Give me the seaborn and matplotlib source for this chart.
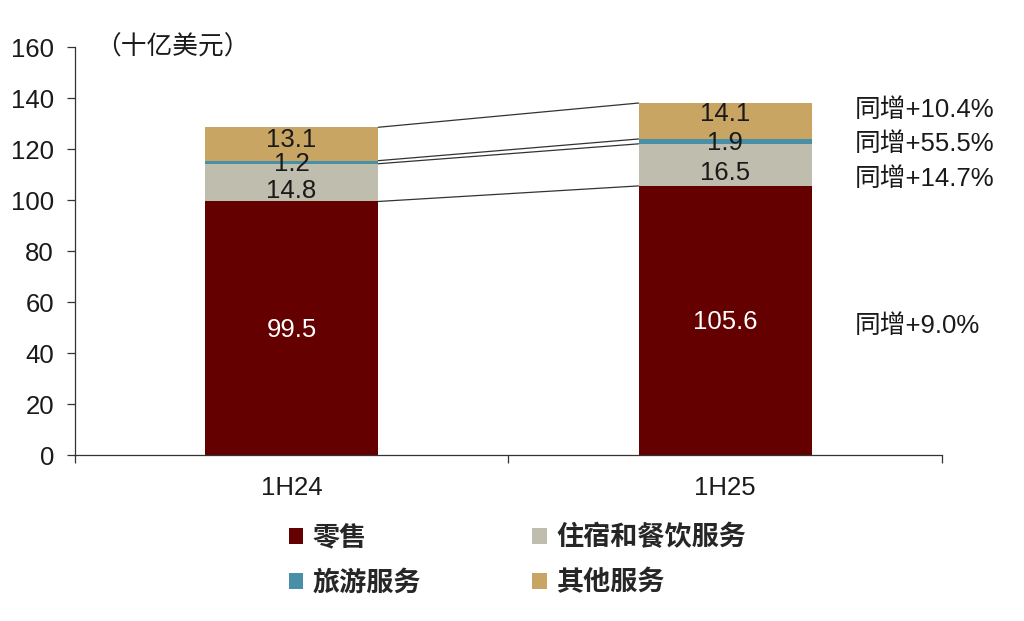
import matplotlib
matplotlib.use("Agg")
import matplotlib.pyplot as plt
import seaborn as sns
import numpy as np
import pandas as pd
from matplotlib.patches import Patch

# data
periods = ["1H24", "1H25"]
series_names = ["零售", "住宿和餐饮服务", "旅游服务", "其他服务"]
retail = [99.5, 105.6]
lodging = [14.8, 16.5]
tourism = [1.2, 1.9]
other = [13.1, 14.1]
growth_labels = ["同增+9.0%", "同增+14.7%", "同增+55.5%", "同增+10.4%"]

colors = ["#640000", "#BFBDAE", "#4A8FA8", "#C8A562"]
# vertical nudges of the segment labels (data units), as placed in the original
label_nudge = [[-0.6, -0.6], [-3.3, -3.1], [-0.6, -0.6], [1.4, 2.6]]

sns.set_style("white")
plt.rcParams['font.family'] = ['Liberation Sans', 'Noto Sans CJK SC', 'DejaVu Sans']
plt.rcParams['axes.unicode_minus'] = False

FS = 18.5

fig = plt.figure(figsize=(10.24, 6.21), dpi=100)
ax = fig.add_axes([0.073, 0.267, 0.847, 0.657])

values = [retail, lodging, tourism, other]
bottom = np.zeros(len(periods))
tops = []
for k, (name, vals, col) in enumerate(zip(series_names, values, colors)):
    df = pd.DataFrame({"period": periods, "value": vals})
    sns.barplot(data=df, x="period", y="value", color=col, width=0.4,
                bottom=bottom, ax=ax, saturation=1, edgecolor="none", linewidth=0)
    for i, v in enumerate(vals):
        tc = "white" if name == "零售" else "#1a1a1a"
        ax.text(i, bottom[i] + v / 2 + label_nudge[k][i], f"{v:.1f}",
                ha="center", va="center", fontsize=FS, color=tc)
    bottom = bottom + np.array(vals)
    tops.append(bottom.copy())

# connector lines between bars
for t in tops:
    ax.plot([0.2, 0.8], [t[0], t[1]], color="#333333", lw=0.9)

# growth annotations
growth_y = [50.8, 108.4, 122.0, 135.5]
for lbl, y in zip(growth_labels, growth_y):
    ax.text(1.298, y, lbl, ha="left", va="center", fontsize=FS, color="#1a1a1a",
            clip_on=False)

ax.text(0.023, 1.0, "（十亿美元）", transform=ax.transAxes, ha="left", va="center",
        fontsize=FS, color="#1a1a1a")

ax.set_xlim(-0.5, 1.5)
ax.set_ylim(0, 160)
ax.set_yticks(np.arange(0, 161, 20))
ax.set_xlabel("")
ax.set_ylabel("")
sns.despine(ax=ax)
for s in ["left", "bottom"]:
    ax.spines[s].set_color("#333333")
    ax.spines[s].set_linewidth(0.9)
ax.tick_params(axis="y", direction="out", length=6, width=0.9, color="#333333",
               labelsize=FS, pad=9, left=True, labelcolor="#1a1a1a")
ax.set_xticks([0, 1])
ax.set_xticklabels(periods)
ax.tick_params(axis="x", which="major", length=0, labelsize=FS, pad=15,
               labelcolor="#1a1a1a")
ax.set_xticks([-0.5, 0.5, 1.5], minor=True)
ax.tick_params(axis="x", which="minor", direction="out", length=6, width=0.9,
               color="#333333", bottom=True)

handles = [Patch(facecolor=c, edgecolor="none") for c in colors]
order = [0, 2, 1, 3]
fig.legend([handles[i] for i in order], [series_names[i] for i in order],
           ncol=2, loc="upper left", bbox_to_anchor=(0.258, 0.194), frameon=False,
           handlelength=0.55, handleheight=0.55, handletextpad=0.35,
           columnspacing=4.1, labelspacing=0.7,
           prop={"size": 19.5, "weight": "bold"})

fig.savefig("out.png", dpi=100)
